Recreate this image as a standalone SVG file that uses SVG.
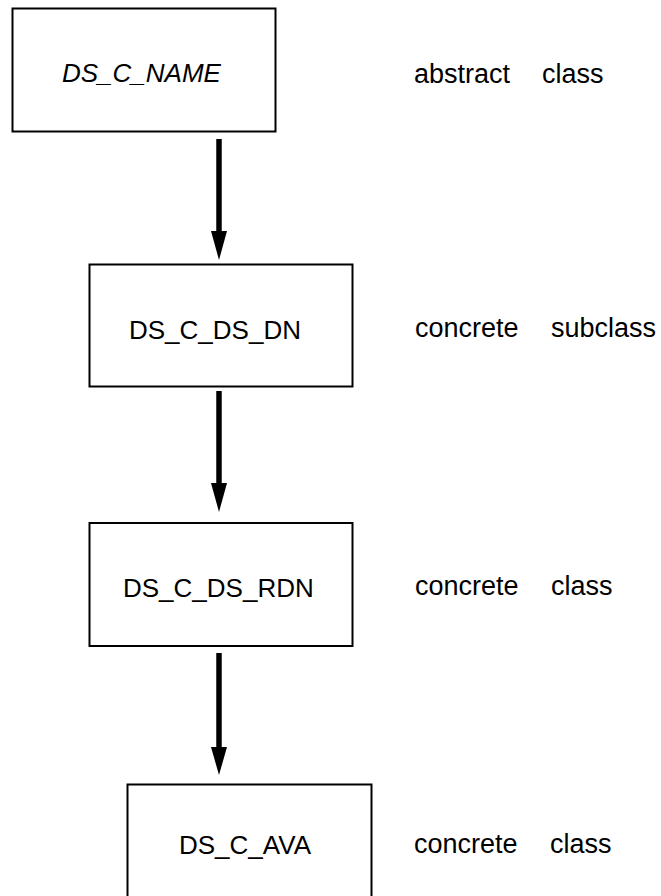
<svg xmlns="http://www.w3.org/2000/svg" width="661" height="896" viewBox="0 0 661 896">
<defs>
<style>
.box{fill:#fff;stroke:#000;stroke-width:2}
.t{font-family:"Liberation Sans",Arial,sans-serif;font-size:26px;fill:#000}
.lb{font-size:27px}
.it{font-style:italic}
.shaft{stroke:#000;stroke-width:5.5;fill:none}
.head{fill:#000}
</style>
</defs>
<rect width="661" height="896" fill="#fff"/>
<g id="connectors">
<line class="shaft" x1="219" y1="139" x2="219" y2="234"/>
<polygon class="head" points="211,231 227,231 219,260"/>
<line class="shaft" x1="219" y1="391" x2="219" y2="486"/>
<polygon class="head" points="211,483 227,483 219,512"/>
<line class="shaft" x1="219" y1="653" x2="219" y2="750"/>
<polygon class="head" points="211,747 227,747 219,775"/>
</g>
<g id="node-ds-c-name">
<rect class="box" x="12.5" y="8.5" width="263" height="123"/>
<text class="t it" x="62" y="82">DS_C_NAME</text>
</g>
<g id="node-ds-c-ds-dn">
<rect class="box" x="89.5" y="264.5" width="263" height="122"/>
<text class="t" x="129" y="339">DS_C_DS_DN</text>
</g>
<g id="node-ds-c-ds-rdn">
<rect class="box" x="89.5" y="523" width="263" height="123"/>
<text class="t" x="123" y="597">DS_C_DS_RDN</text>
</g>
<g id="node-ds-c-ava">
<rect class="box" x="127.5" y="784.5" width="244" height="130"/>
<text class="t" x="179" y="854">DS_C_AVA</text>
</g>
<g id="labels">
<text class="t lb"><tspan x="414" y="83">abstract</tspan><tspan x="542" y="83">class</tspan></text>
<text class="t lb"><tspan x="415" y="337">concrete</tspan><tspan x="551" y="337">subclass</tspan></text>
<text class="t lb"><tspan x="415" y="595">concrete</tspan><tspan x="551" y="595">class</tspan></text>
<text class="t lb"><tspan x="414" y="853">concrete</tspan><tspan x="550" y="853">class</tspan></text>
</g>
</svg>
